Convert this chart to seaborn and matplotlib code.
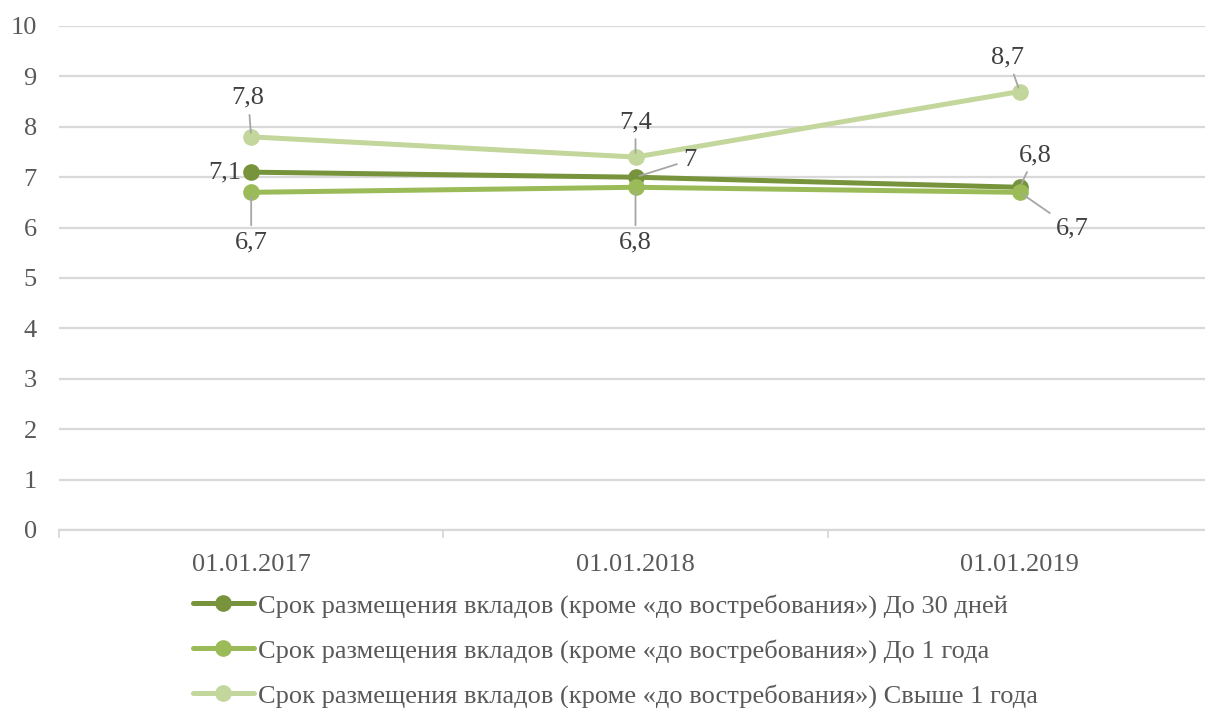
import matplotlib
matplotlib.use("Agg")
import matplotlib.pyplot as plt
import seaborn as sns
import pandas as pd

dates = ["01.01.2017", "01.01.2018", "01.01.2019"]
series_names = [
    "Срок размещения вкладов (кроме «до востребования») До 30 дней",
    "Срок размещения вкладов (кроме «до востребования») До 1 года",
    "Срок размещения вкладов (кроме «до востребования») Свыше 1 года",
]
vals_30d = [7.1, 7.0, 6.8]
vals_1y = [6.7, 6.8, 6.7]
vals_over1y = [7.8, 7.4, 8.7]
label_texts = {
    0: ["7,1", "7", "6,8"],
    1: ["6,7", "6,8", "6,7"],
    2: ["7,8", "7,4", "8,7"],
}
colors = ["#77933C", "#9BBB59", "#C3D69B"]

sns.set_theme(style="white")
plt.rcParams["font.family"] = ["Liberation Serif", "DejaVu Serif"]

FS = 19

all_vals = [vals_30d, vals_1y, vals_over1y]
rows = []
for name, vals in zip(series_names, all_vals):
    for i, v in enumerate(vals):
        rows.append({"x": i, "date": dates[i], "value": v, "series": name})
df = pd.DataFrame(rows)

fig = plt.figure(figsize=(12.05, 7.08), dpi=100)
ax = fig.add_axes([59/1205, 1-530/708, (1212-59)/1205, (530-26)/708])

sns.lineplot(data=df, x="x", y="value", hue="series", hue_order=series_names,
             palette=colors, marker="o", markersize=12, linewidth=3.6,
             markeredgewidth=0, ax=ax, legend=True)

ax.set_xlim(-0.5, 2.5)
ax.set_ylim(0, 10)
ax.set_yticks(range(0, 11))
ax.set_xticks(range(3))
ax.set_xticklabels(dates)
ax.set_xticks([-0.5, 0.5, 1.5, 2.5], minor=True)
ax.set_xlabel("")
ax.set_ylabel("")
ax.grid(axis="y", color="#D9D9D9", linewidth=1.6)
ax.set_axisbelow(True)
for s in ["top", "right", "left"]:
    ax.spines[s].set_visible(False)
ax.spines["bottom"].set_color("#D9D9D9")
ax.spines["bottom"].set_linewidth(1.6)
ax.tick_params(axis="y", length=0, pad=16, labelsize=FS, labelcolor="#595959")
ax.tick_params(axis="x", which="major", length=0, pad=17, labelsize=FS, labelcolor="#595959")
ax.tick_params(axis="x", which="minor", bottom=True, length=6, width=1.3,
               color="#D9D9D9", direction="out")

# data labels: offsets in pixels (dx, dy down-positive)
offsets = {
    (0, 0): (-10, 0, "right", "center", False),
    (0, 1): (54, -17, "center", "center", True),
    (0, 2): (15, -32, "center", "center", True),
    (1, 0): (0, 50, "center", "center", True),
    (1, 1): (0, 55, "center", "center", True),
    (1, 2): (52, 36, "center", "center", True),
    (2, 0): (-3, -39, "center", "center", True),
    (2, 1): (0, -35, "center", "center", True),
    (2, 2): (-12, -34, "center", "center", True),
}
for si, vals in enumerate(all_vals):
    for i, v in enumerate(vals):
        dx, dy, ha, va, lead = offsets[(si, i)]
        kw = {}
        if lead:
            kw["arrowprops"] = dict(arrowstyle="-", color="#A6A6A6", lw=1.3,
                                    shrinkA=2, shrinkB=3)
        ax.annotate(label_texts[si][i], xy=(i, v), xytext=(dx*0.72, -dy*0.72),
                    textcoords="offset points", ha=ha, va=va, fontsize=FS,
                    color="#404040", **kw)

handles, labels = ax.get_legend_handles_labels()
ax.get_legend().remove()
fig.legend(handles, labels, loc="upper left",
           bbox_to_anchor=(193/1205, 1-594/708), frameon=False,
           fontsize=FS, labelcolor="#595959", handlelength=2.3,
           handletextpad=0.15, labelspacing=0.8, borderpad=0, borderaxespad=0)

fig.savefig("out.png", dpi=100)
